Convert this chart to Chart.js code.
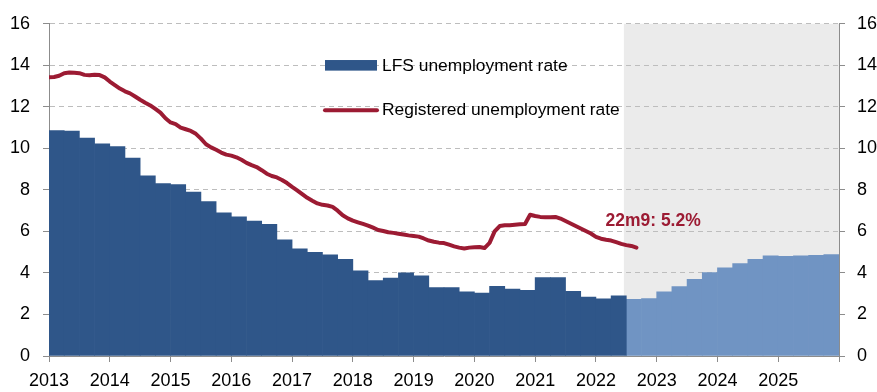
<!DOCTYPE html>
<html>
<head>
<meta charset="utf-8">
<script src="https://cdn.jsdelivr.net/npm/chart.js@4.4.1/dist/chart.umd.min.js"></script>
<style>
html,body{margin:0;padding:0;background:#fff;}
#wrap{width:877px;height:392px;position:relative;}
</style>
</head>
<body>
<div id="wrap"><canvas id="c" width="877" height="392"></canvas></div>
<script>
// ---------- data ----------
const firstYear = 2013;
const lastYear = 2026;
const yearTicks = [2013, 2014, 2015, 2016, 2017, 2018, 2019, 2020, 2021, 2022, 2023, 2024, 2025];
const yTicks = [0, 2, 4, 6, 8, 10, 12, 14, 16];
const seriesNames = ['LFS unemployment rate', 'Registered unemployment rate'];
const annotationText = '22m9: 5.2%';
// LFS unemployment rate, quarterly, 2013Q1 - 2022Q2 (actual)
const lfsActual = [
  10.86, 10.83, 10.5, 10.22,
  10.09, 9.53, 8.68, 8.30,
  8.26, 7.9, 7.44, 6.9,
  6.7, 6.5, 6.34, 5.6,
  5.16, 4.99, 4.87, 4.66,
  4.1, 3.63, 3.75, 4.0,
  3.86, 3.3, 3.3, 3.09,
  3.03, 3.36, 3.22, 3.16,
  3.78, 3.78, 3.11, 2.84,
  2.75, 2.9
];
// LFS unemployment rate, quarterly, 2022Q3 - 2025Q4 (forecast)
const lfsForecast = [
  2.73, 2.76,
  3.09, 3.34, 3.69, 4.02,
  4.25, 4.45, 4.66, 4.82,
  4.8, 4.83, 4.85, 4.88
];
// Registered unemployment rate, monthly, 2013m1 - 2022m9
const registered = [
  13.42, 13.44, 13.5, 13.62, 13.65, 13.64, 13.62, 13.54, 13.52, 13.55, 13.53, 13.42,
  13.22, 13.05, 12.88, 12.75, 12.65, 12.5, 12.34, 12.2, 12.07, 11.9, 11.72, 11.45,
  11.25, 11.17, 11.0, 10.92, 10.84, 10.7, 10.47, 10.2, 10.05, 9.93, 9.8, 9.7,
  9.65, 9.57, 9.45, 9.3, 9.19, 9.1, 8.95, 8.78, 8.67, 8.6, 8.48, 8.33,
  8.15, 7.98, 7.8, 7.62, 7.48, 7.35, 7.28, 7.25, 7.18, 7.0, 6.78, 6.63,
  6.52, 6.44, 6.36, 6.28, 6.18, 6.07, 6.02, 5.96, 5.93, 5.89, 5.85, 5.81,
  5.78, 5.75, 5.66, 5.56, 5.5, 5.46, 5.44, 5.36, 5.28, 5.22, 5.18, 5.22,
  5.24, 5.25, 5.2, 5.45, 6.0, 6.26, 6.3, 6.3, 6.32, 6.34, 6.36, 6.8,
  6.74, 6.7, 6.68, 6.68, 6.7, 6.62, 6.5, 6.38, 6.26, 6.14, 6.02, 5.9,
  5.74, 5.65, 5.6, 5.56, 5.48, 5.4, 5.34, 5.3, 5.22
];
const forecastStart = 2022.46; // start of shaded forecast period

// ---------- styles ----------
const DARK = '#2F5689';
const LIGHT = '#7094C3';
const RED = '#9C1B33';
const SHADE = '#EBEBEB';
const GRID = '#BDBDBD';
const AXIS = '#8C8C8C';
const TICKFONT = {family: "'Liberation Sans',Arial,sans-serif", size: 18};
const TEXTFONT = "'Liberation Sans',Arial,sans-serif";

// ---------- build points ----------
const actualPts = lfsActual.map((v, i) => ({x: firstYear + (i + 0.5) / 4, y: v}));
const fcPts = lfsForecast.map((v, i) => ({x: firstYear + (lfsActual.length + i + 0.5) / 4, y: v}));
const regPts = registered.map((v, i) => ({x: firstYear + i / 12, y: v}));

const shadePlugin = {
  id: 'shade',
  beforeDraw(chart) {
    const {ctx, chartArea: a, scales: {x}} = chart;
    const x0 = x.getPixelForValue(forecastStart);
    ctx.save();
    ctx.fillStyle = SHADE;
    ctx.fillRect(x0, a.top, a.right - x0, a.bottom - a.top);
    ctx.restore();
  }
};

const overlayPlugin = {
  id: 'overlay',
  afterDraw(chart) {
    const {ctx, chartArea: a, scales: {y}} = chart;
    ctx.save();
    // legend
    const lx = a.left + 276;
    const y1 = y.getPixelForValue(14);
    const y2 = y.getPixelForValue(12) + 3.5;
    ctx.fillStyle = DARK;
    ctx.fillRect(lx, y1 - 5.3, 52, 10.6);
    ctx.strokeStyle = RED;
    ctx.lineWidth = 4;
    ctx.lineCap = 'round';
    ctx.beginPath();
    ctx.moveTo(lx, y2);
    ctx.lineTo(lx + 52, y2);
    ctx.stroke();
    ctx.fillStyle = '#000';
    ctx.font = '17.4px ' + TEXTFONT;
    ctx.textBaseline = 'middle';
    ctx.textAlign = 'left';
    ctx.fillText(seriesNames[0], lx + 57, y1 + 0.5);
    ctx.fillText(seriesNames[1], lx + 57, y2);
    // annotation
    const meta = chart.getDatasetMeta(0);
    const last = meta.data[meta.data.length - 1];
    ctx.fillStyle = RED;
    ctx.font = 'bold 17.5px ' + TEXTFONT;
    ctx.fillText(annotationText, last.x - 31, last.y - 26);
    ctx.restore();
  }
};

new Chart(document.getElementById('c'), {
  type: 'bar',
  data: {
    datasets: [
      {type: 'line', label: seriesNames[1], data: regPts, borderColor: RED, borderWidth: 4,
        pointRadius: 0, tension: 0, borderCapStyle: 'round', borderJoinStyle: 'round', order: 0},
      {type: 'bar', label: seriesNames[0], data: actualPts, backgroundColor: DARK,
        barPercentage: 1, categoryPercentage: 1, grouped: false, order: 1},
      {type: 'bar', label: seriesNames[0] + ' (forecast)', data: fcPts, backgroundColor: LIGHT,
        barPercentage: 1, categoryPercentage: 1, grouped: false, order: 1}
    ]
  },
  options: {
    responsive: false,
    animation: false,
    devicePixelRatio: 1,
    layout: {padding: {top: 16, left: 0, right: 0, bottom: 0}},
    plugins: {legend: {display: false}, tooltip: {enabled: false}},
    scales: {
      x: {
        type: 'linear', min: firstYear, max: lastYear, offset: false,
        ticks: {stepSize: 1, autoSkip: false, maxRotation: 0, minRotation: 0, padding: 8,
          color: '#000', font: TICKFONT,
          callback: v => yearTicks.includes(v) ? String(v) : ''},
        grid: {drawOnChartArea: false, offset: false, tickLength: 6, color: AXIS},
        border: {color: AXIS},
        afterFit: s => { s.height = 36; }
      },
      y: {
        position: 'left', min: 0, max: 16,
        ticks: {stepSize: 2, padding: 13, color: '#000', font: TICKFONT},
        grid: {color: c => (c.tick && c.tick.value === 0) ? 'rgba(0,0,0,0)' : GRID,
          tickColor: AXIS, tickLength: 6, tickBorderDash: []},
        border: {color: AXIS, dash: [5, 4]},
        afterFit: s => { s.width = 49; }
      },
      y2: {
        position: 'right', min: 0, max: 16,
        ticks: {stepSize: 2, padding: 12, color: '#000', font: TICKFONT},
        grid: {drawOnChartArea: false, tickColor: AXIS, tickLength: 6, color: AXIS},
        border: {color: AXIS},
        afterFit: s => { s.width = 38; }
      }
    }
  },
  plugins: [shadePlugin, overlayPlugin]
});
</script>
</body>
</html>
